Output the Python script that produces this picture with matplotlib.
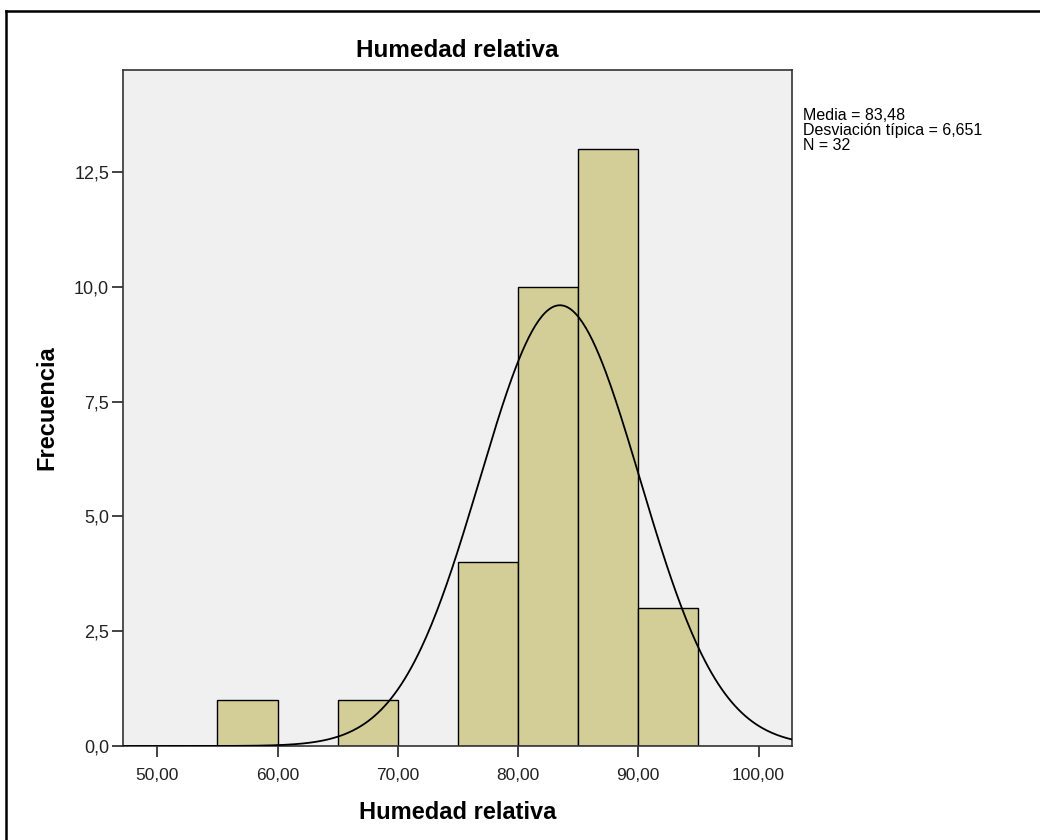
import numpy as np
import matplotlib
matplotlib.use('Agg')
import matplotlib.pyplot as plt
from matplotlib.lines import Line2D

plt.rcParams['font.family'] = ['Liberation Sans', 'DejaVu Sans']

# histogram bins (edges) and counts
bin_edges = [55, 60, 65, 70, 75, 80, 85, 90, 95]
counts = [1, 0, 1, 0, 4, 10, 13, 3]
media = 83.48
desv = 6.651
n = 32
x_ticks = [50, 60, 70, 80, 90, 100]
y_ticks = [0.0, 2.5, 5.0, 7.5, 10.0, 12.5]
stats_lines = ['Media = 83,48', 'Desviación típica = 6,651', 'N = 32']

fig = plt.figure(figsize=(10.4, 8.4), dpi=100)
fig.patch.set_facecolor('white')
ax = fig.add_axes([123 / 1040, 1 - 746 / 840, (792 - 123) / 1040, (746 - 70) / 840])
ax.set_facecolor('#f0f0f0')

widths = np.diff(bin_edges)
lefts = np.array(bin_edges[:-1])
for l, w, c in zip(lefts, widths, counts):
    if c > 0:
        ax.bar(l, c, width=w, align='edge', color='#d3ce97',
               edgecolor='black', linewidth=1.0, zorder=2)

xlim = (47.15, 102.78)
xs = np.linspace(xlim[0], xlim[1], 400)
bw = 5
ys = n * bw / (desv * np.sqrt(2 * np.pi)) * np.exp(-0.5 * ((xs - media) / desv) ** 2)
ax.plot(xs, ys, color='black', linewidth=1.3, zorder=3)

ax.set_xlim(*xlim)
ax.set_ylim(0, 14.72)
ax.set_xticks(x_ticks)
ax.set_xticklabels([f'{v:.2f}'.replace('.', ',') for v in x_ticks])
ax.set_yticks(y_ticks)
ax.set_yticklabels([f'{v:.1f}'.replace('.', ',') for v in y_ticks])
ax.tick_params(axis='both', colors='#222222', length=8, width=1.2, direction='out')
ax.tick_params(axis='x', labelsize=12.5, pad=8)
ax.tick_params(axis='y', labelsize=13, pad=2)
for s in ax.spines.values():
    s.set_color('#333333')
    s.set_linewidth(1.2)

ax.set_title('Humedad relativa', fontsize=17.5, fontweight='bold', pad=9)
ax.set_xlabel('Humedad relativa', fontsize=17, fontweight='bold', labelpad=13)
ax.set_ylabel('Frecuencia', fontsize=17, fontweight='bold', labelpad=11)

for i, line in enumerate(stats_lines):
    fig.text(803 / 1040, 1 - (108 + 15 * i) / 840, line,
             fontsize=11.5, va='top', ha='left')

# outer frame (only left and top visible)
fig.add_artist(Line2D([6 / 1040, 6 / 1040], [0, 1 - 11 / 840], color='black', linewidth=1.8, transform=fig.transFigure))
fig.add_artist(Line2D([6 / 1040, 1], [1 - 11 / 840, 1 - 11 / 840], color='black', linewidth=1.8, transform=fig.transFigure))

fig.savefig('out.png', dpi=100)
